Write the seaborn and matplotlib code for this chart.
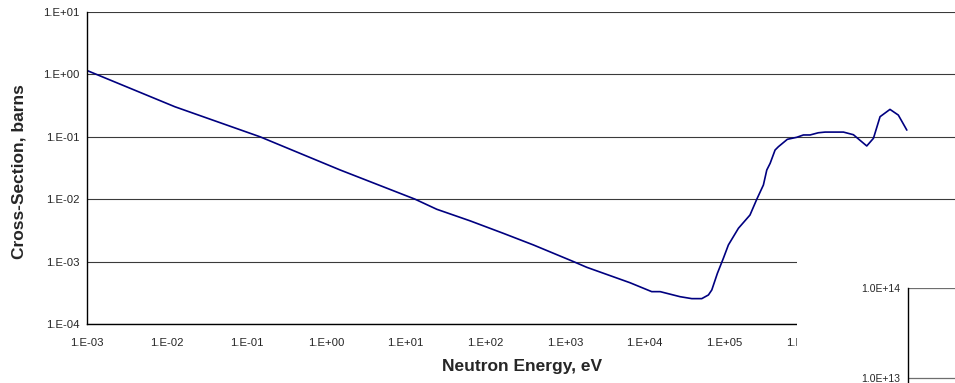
import numpy as np
import matplotlib
matplotlib.use("Agg")
import matplotlib.pyplot as plt
from matplotlib.ticker import FuncFormatter, LogLocator, NullFormatter
import seaborn as sns

# Neutron cross-section vs. energy (eV, barns)
energy_ev = [1.0e-3, 1.26e-2, 0.148, 1.50, 13.1, 24.5, 64.3, 168, 401, 1280,
             1880, 6550, 1.23e4, 1.57e4, 2.79e4, 3.92e4, 5.23e4, 6.34e4,
             6.99e4, 8.22e4, 9.77e4, 1.13e5, 1.51e5, 2.11e5, 2.57e5, 3.11e5,
             3.43e5, 3.78e5, 4.36e5, 4.80e5, 6.22e5, 8.17e5, 9.89e5, 1.20e6,
             1.52e6, 1.85e6, 3.15e6, 4.20e6, 6.18e6, 7.50e6, 9.08e6, 1.21e7,
             1.54e7, 1.97e7]
cross_section_b = [1.15, 0.303, 0.100, 0.0294, 0.0100, 6.9e-3, 4.5e-3, 2.84e-3,
                   1.85e-3, 1.0e-3, 8.1e-4, 4.59e-4, 3.3e-4, 3.3e-4, 2.74e-4,
                   2.55e-4, 2.55e-4, 2.92e-4, 3.51e-4, 6.49e-4, 1.13e-3, 1.85e-3,
                   3.42e-3, 5.58e-3, 1.0e-2, 1.69e-2, 2.94e-2, 3.76e-2, 6.14e-2,
                   6.94e-2, 9.12e-2, 9.82e-2, 0.107, 0.107, 0.116, 0.119, 0.119,
                   0.108, 0.0713, 0.0946, 0.21, 0.275, 0.223, 0.128]

x_limits = (1e-3, 1e8)
y_limits = (1e-4, 1e1)
flux_limits = (1e12, 1e14)

sns.set_style("white")
plt.rcParams["font.family"] = ["Liberation Sans", "DejaVu Sans"]

W, H = 955, 383
fig = plt.figure(figsize=(W / 100, H / 100), dpi=100)

# main log-log axes (right part runs past the figure edge)
x0, x1 = 87.3, 963.0
y0, y1 = 324.0, 12.0
ax = fig.add_axes([x0 / W, 1 - y0 / H, (x1 - x0) / W, (y0 - y1) / H])

sns.lineplot(x=energy_ev, y=cross_section_b, ax=ax, color="#000080",
             linewidth=1.2, estimator=None, sort=False)
ax.set_xscale("log")
ax.set_yscale("log")
ax.set_xlim(*x_limits)
ax.set_ylim(*y_limits)

fmt = FuncFormatter(lambda v, p: f"1.E{int(round(np.log10(v))):+03d}")
for axis in (ax.xaxis, ax.yaxis):
    axis.set_major_locator(LogLocator(base=10, numticks=20))
    axis.set_minor_locator(LogLocator(base=10, subs=np.arange(2, 10), numticks=20))
    axis.set_major_formatter(fmt)
    axis.set_minor_formatter(NullFormatter())

ax.tick_params(which="major", direction="inout", length=4.5, width=0.9,
               color="black", labelsize=8.2, pad=3.5)
ax.tick_params(axis="x", which="major", pad=7.5)
ax.tick_params(which="minor", direction="in", length=3, width=0.8, color="black")
ax.yaxis.grid(True, which="major", color="#3a3a3a", linewidth=0.8)
ax.xaxis.grid(False)
for s in ("top", "right"):
    ax.spines[s].set_visible(False)
for s in ("left", "bottom"):
    ax.spines[s].set_color("black")
    ax.spines[s].set_linewidth(1.0)

ax.set_xlabel("Neutron Energy, eV", fontsize=12.5, fontweight="bold")
ax.set_ylabel("Cross-Section, barns", fontsize=12.5, fontweight="bold")
ax.xaxis.set_label_coords((522 - x0) / (x1 - x0), -0.112)
ax.yaxis.set_label_coords((27 - x0) / (x1 - x0), 0.49)

# second chart object sitting over the lower-right corner
box_left, box_top = 797.0, 235.0
cover = fig.add_axes([box_left / W, 0, 1 - box_left / W + 0.02, (H - box_top) / H],
                     zorder=5)
cover.set_facecolor("white")
cover.set_xticks([])
cover.set_yticks([])
for s in cover.spines.values():
    s.set_visible(False)

a2_left, a2_top, a2_bottom = 907.7, 287.7, 468.3
ax2 = fig.add_axes([a2_left / W, 1 - a2_bottom / H, 0.3, (a2_bottom - a2_top) / H],
                   zorder=6)
ax2.set_yscale("log")
ax2.set_ylim(*flux_limits)
ax2.set_xlim(0, 1)
ax2.set_xticks([])
ax2.yaxis.set_major_locator(LogLocator(base=10, numticks=10))
ax2.yaxis.set_minor_locator(LogLocator(base=10, subs=np.arange(2, 10), numticks=10))
ax2.yaxis.set_major_formatter(FuncFormatter(lambda v, p: f"1.0E{int(round(np.log10(v))):+03d}"))
ax2.yaxis.set_minor_formatter(NullFormatter())
ax2.tick_params(axis="y", which="major", direction="out", length=3.5, width=0.9,
                labelsize=7.5, pad=2)
ax2.tick_params(axis="y", which="minor", direction="in", length=2.5, width=0.8)
ax2.yaxis.grid(True, which="major", color="#6e6e6e", linewidth=0.9)
ax2.set_facecolor("white")
for s in ("top", "right", "bottom"):
    ax2.spines[s].set_visible(False)
ax2.spines["left"].set_color("black")
ax2.spines["left"].set_linewidth(1.0)

fig.savefig("out.png", dpi=100, facecolor="white")
